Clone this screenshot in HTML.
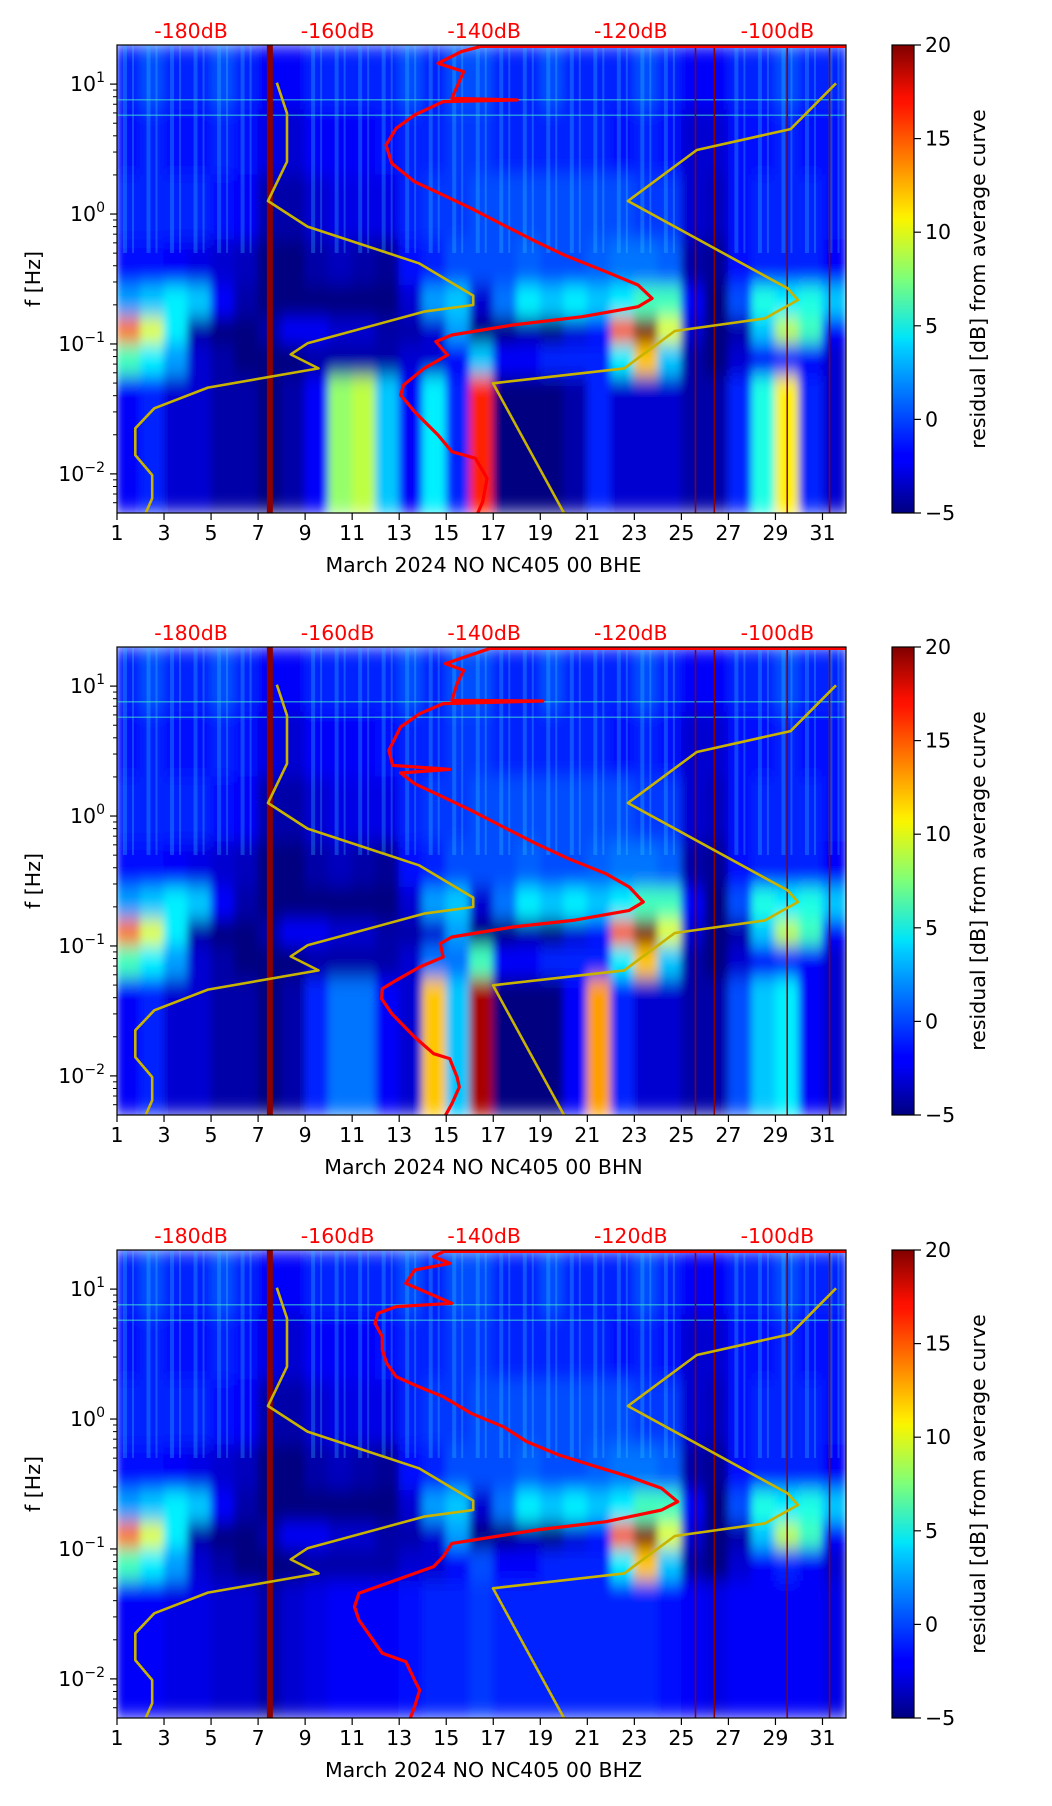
<!DOCTYPE html>
<html><head><meta charset="utf-8"><title>Residual spectrograms</title>
<style>
html,body{margin:0;padding:0;background:#fff;}
svg{display:block;font-family:"DejaVu Sans","Liberation Sans",sans-serif;}
</style></head>
<body>
<svg id="fig" xmlns="http://www.w3.org/2000/svg" width="1052" height="1806" viewBox="0 0 1052 1806">
<defs>
<filter id="soft" x="0" y="0" width="1" height="1"><feGaussianBlur stdDeviation="4 9" edgeMode="duplicate"/></filter>
<linearGradient id="jetgrad" x1="0" y1="1" x2="0" y2="0">
<stop offset="0" stop-color="#000080"/><stop offset="0.11" stop-color="#0000ff"/><stop offset="0.125" stop-color="#0000ff"/>
<stop offset="0.36" stop-color="#00d4ff"/><stop offset="0.375" stop-color="#00e5f8"/><stop offset="0.5" stop-color="#7dff7a"/>
<stop offset="0.625" stop-color="#f8f500"/><stop offset="0.64" stop-color="#ffea00"/><stop offset="0.875" stop-color="#ff1300"/>
<stop offset="0.89" stop-color="#fa0f00"/><stop offset="1" stop-color="#800000"/>
</linearGradient>
</defs>
</svg>
<script>
// ---------- data ----------
const dayTicks = [1,3,5,7,9,11,13,15,17,19,21,23,25,27,29,31];
const dbTicks = [-180,-160,-140,-120,-100];
const cbarTicks = [-5,0,5,10,15,20];
const decadeTicks = [1,0,-1,-2];
const bandEdges = [1.301,0.8,0.3,-0.2,-0.55,-0.8,-1.0,-1.25,-2.301];
const titles = ["March 2024 NO NC405 00 BHE","March 2024 NO NC405 00 BHN","March 2024 NO NC405 00 BHZ"];

// residual grid values (dB), 31 days per band
const p1b0 = [-1,0,-1,-1,0,-1,-2,-2,-1,-1,-1,-1,0,-1,0,0,-1,-1,0,-1,-1,-1,0,-1,-2,-2,-1,-1,0,-1,-1];
const p1b1 = [-1.5,-1,-1.5,-1.5,-1,-1.5,-2.5,-3,-2,-2,-2,-1.5,-1,-1,-0.5,-0.5,-1,-1,-1,-1,-1,-1.5,-1,-1.5,-3,-3,-1.5,-1.5,-1,-1.5,-1.5];
const p1b2 = [-1,-1,-1,-1,-1.5,-2,-4,-4,-3,-2.5,-2.5,-2.5,-1,-0.5,-0.5,0,0,0,0,0,0,0,-0.5,-0.5,-3,-3.5,-1.5,-1,-1,-1,-1.5];
const p1b3 = [-1.5,-1.5,-2,-2.5,-3,-3.5,-5,-5,-4,-3.5,-4,-4.5,-1.5,-1,0,0,0,0.5,0,0,0.5,1,1,0.5,-4,-4.5,-1.5,-1,-1,-1,-2];
const p1b4 = [2,3,4,3,-2,-4,-5,-5,-5,-5,-5,-5,-3,2,3,-3,1,4,3,4,3,4,6,6,-2,-5,0,5,4,5,3];
const p1b5 = [14,10,4,-4,-5,-5,-4,-2,-2,-3,-3,-4,-4,-3,2,-5,-5,-4,-5,-3,-2,15,20,10,-3,-5,-4,3,9,6,-2];
const p1b6 = [6,4,2,-3,-4,-5,-5,-5,-4,-4,-4,-4,-3,-3,-2,3,-2,-2,-1,-1,-1,4,12,3,-4,-5,-3,-2,-1,-2,-3];
const p1b7 = [-2,-1,-3,-3,-4,-4,-5,-4,-2,8,9,3,-2,4,-1,16,-5,-5,-5,-4,-1,-3,-3,-3,-4,-4,-1,5,11,-1,-3];
const p2b6 = [6,4,2,-3,-4,-5,-5,-5,-4,-4,-4,-4,-3,1,1,6,-2,-2,-1,-1,-1,4,12,3,-4,-5,-3,-2,-1,-2,-3];
const p2b7 = [-2,-1,-3,-3,-4,-4,-5,-4,-1,1,1,-2,-3,12,3,19,-5,-5,-5,-2,13,-1,-3,-3,-4,-4,0,3,4,-2,-3];
const p3b6 = [6,4,2,-3,-4,-5,-5,-5,-4,-4,-4,-4,-3,-3,-2,0,-2,-2,-1,-1,-1,4,12,3,-4,-5,-3,-2,-1,-2,-3];
const p3b7 = [-2,-2,-2.5,-2.5,-3,-3,-4,-3,-2.5,-2,-2,-2,-1.5,-1,-1,-0.5,-1,-1,-1,-1,-1,-1,-1,-1.5,-2,-2.5,-2,-2,-2,-2,-2.5];
const grids = [
 [p1b0,p1b1,p1b2,p1b3,p1b4,p1b5,p1b6,p1b7],
 [p1b0,p1b1,p1b2,p1b3,p1b4,p1b5,p2b6,p2b7],
 [p1b0,p1b1,p1b2,p1b3,p1b4,p1b5,p3b6,p3b7]];
const stripeDays = [7.5,25.6,26.4,29.5,31.3];

// Peterson low / high noise models (dB vs log10 f)
const nlnmDb = [-168.3,-166.9,-166.9,-169.5,-164.1,-148.9,-141.5,-141.5,-148.2,-164.1,-166.4,-162.6,-177.7,-185.0,-187.6,-187.6,-185.3,-185.3,-186.2];
const nlnmLogF = [1.011,0.775,0.403,0.100,-0.097,-0.379,-0.628,-0.700,-0.751,-0.995,-1.080,-1.188,-1.336,-1.495,-1.649,-1.855,-2.009,-2.188,-2.303];
const nhnmDb = [-92.0,-98.2,-111.0,-120.4,-98.6,-97.2,-101.7,-114.0,-120.9,-138.8,-129.1];
const nhnmLogF = [1.006,0.654,0.493,0.100,-0.572,-0.662,-0.803,-0.900,-1.188,-1.303,-2.303];

// average PSD curves per channel
const psd1Db = [-140.6,-143.1,-146.3,-142.8,-144.4,-135.5,-145.6,-149.5,-152.0,-153.4,-152.6,-149.5,-145.6,-141.8,-137.4,-132.9,-129.1,-123.4,-119.0,-117.1,-119.0,-126.6,-136.1,-144.4,-146.6,-145.0,-148.2,-151.0,-151.4,-149.5,-146.3,-144.4,-141.2,-139.6,-140.2,-140.9];
const psd1LogF = [1.288,1.250,1.160,1.096,0.891,0.878,0.865,0.762,0.660,0.531,0.390,0.249,0.146,0.044,-0.084,-0.213,-0.315,-0.444,-0.546,-0.649,-0.713,-0.790,-0.854,-0.931,-0.982,-1.085,-1.188,-1.316,-1.393,-1.521,-1.701,-1.829,-1.880,-2.034,-2.214,-2.304];
const psd2Db = [-139.3,-145.3,-142.8,-143.7,-144.4,-132.0,-145.6,-148.8,-151.4,-153.0,-152.5,-144.7,-151.4,-149.5,-145.6,-141.8,-137.4,-132.9,-128.5,-123.4,-120.2,-118.3,-120.2,-127.9,-136.1,-144.4,-146.0,-145.6,-148.8,-152.0,-153.9,-154.0,-152.6,-149.5,-146.9,-144.7,-143.7,-143.4,-144.4,-145.3];
const psd2LogF = [1.288,1.173,1.121,1.019,0.891,0.885,0.865,0.788,0.685,0.506,0.390,0.359,0.331,0.249,0.146,0.044,-0.084,-0.213,-0.328,-0.444,-0.546,-0.662,-0.726,-0.803,-0.854,-0.931,-0.982,-1.085,-1.162,-1.264,-1.329,-1.406,-1.521,-1.701,-1.829,-1.867,-2.009,-2.086,-2.214,-2.304];
const psd3Db = [-145.6,-146.9,-144.7,-149.5,-150.7,-144.4,-152.0,-154.5,-154.9,-153.9,-153.9,-153.3,-152.0,-149.5,-145.6,-141.8,-137.4,-134.2,-129.8,-124.7,-120.2,-115.8,-113.6,-115.8,-123.4,-132.9,-144.4,-145.6,-146.9,-152.0,-157.1,-157.7,-157.1,-155.5,-153.9,-150.7,-149.5,-148.8,-149.5,-150.1];
const psd3LogF = [1.288,1.250,1.198,1.147,1.044,0.891,0.865,0.814,0.737,0.634,0.531,0.429,0.326,0.262,0.172,0.044,-0.059,-0.174,-0.277,-0.367,-0.444,-0.533,-0.636,-0.700,-0.790,-0.854,-0.957,-1.059,-1.136,-1.239,-1.341,-1.444,-1.547,-1.675,-1.803,-1.867,-2.009,-2.086,-2.214,-2.304];
const psdDb = [psd1Db,psd2Db,psd3Db];
const psdLogF = [psd1LogF,psd2LogF,psd3LogF];

// ---------- layout ----------
const NS = "http://www.w3.org/2000/svg";
const svg = document.getElementById('fig');
const X0 = 117, W = 729, H = 468, TOPS = [45,647,1250];
const FMAX = 1.301, FMIN = -2.301;
const CBX = 892, CBW = 22;
const FS = 20.5;
function xDay(d){ return X0 + (d-1)/31*W; }
function yF(lf, y0){ return y0 + (FMAX-lf)/(FMAX-FMIN)*H; }
function xDb(db){ return X0 + 74 + (db+180)*7.33; }
function jet(v){
  const t = Math.max(0,Math.min(1,(v+5)/25));
  const c = k => Math.round(255*Math.max(0,Math.min(1,1.5-Math.abs(4*t-k))));
  return `rgb(${c(3)},${c(2)},${c(1)})`;
}
function el(tag, attrs, parent){
  const e = document.createElementNS(NS, tag);
  for (const k in attrs) e.setAttribute(k, attrs[k]);
  (parent||svg).appendChild(e);
  return e;
}
function txt(s, attrs, parent){ const t = el('text', attrs, parent); t.textContent = s; return t; }

TOPS.forEach((y0, p) => {
  const g = el('g', {});
  
  
  const clipId = 'clip' + p;
  const cp = el('clipPath', {id: clipId}, g);
  el('rect', {x:X0, y:y0, width:W, height:H}, cp);
  const plot = el('g', {'clip-path': `url(#${clipId})`}, g);
  const hm = el('g', {filter:'url(#soft)'}, plot);
  
  
  el('rect', {x:X0, y:y0, width:W, height:H, fill:'#000080'}, hm);
  grids[p].forEach((band, b) => {
    const ya = yF(bandEdges[b], y0), yb = yF(bandEdges[b+1], y0);
    band.forEach((v, i) => {
      const r = el('rect', {x:xDay(i+1)-0.5, y:ya-0.5, width:W/31+1, height:yb-ya+1, fill:jet(v)}, hm);
      
      
    });
  });
  for (let d = 1; d <= 31; d++) {
    if (d===7 || d===8 || d===25 || d===26) continue;
    const yb = yF(-0.3, y0);
    el('rect', {x:xDay(d)+6, y:y0, width:4, height:yb-y0, fill:'#30c8ff', opacity:0.3}, plot);
    el('rect', {x:xDay(d)+15, y:y0, width:2, height:yb-y0, fill:'#50e0ff', opacity:0.25}, plot);
  }
  [0.88,0.76].forEach(lf => el('line', {x1:X0, x2:X0+W, y1:yF(lf,y0), y2:yF(lf,y0), stroke:'#40e0d0', 'stroke-width':1.5, opacity:0.6}, plot));
  stripeDays.forEach((d, i) => {
    const l = el('line', {x1:xDay(d), x2:xDay(d), y1:y0, y2:y0+H, stroke:'#8b0000', 'stroke-width': i===0 ? 6 : 1.5}, plot);
    
    
  });
  const mk = (dbs, lfs, name) => {
    const pl = el('polyline', {points: dbs.map((d,i)=>xDb(d).toFixed(1)+','+yF(lfs[i],y0).toFixed(1)).join(' '), fill:'none', stroke:'#c8b400', 'stroke-width':2.6, 'stroke-linejoin':'round'}, plot);
    
    
  };
  mk(nlnmDb, nlnmLogF, 'nlnm-curve');
  mk(nhnmDb, nhnmLogF, 'nhnm-curve');
  const pd = psdDb[p], pf = psdLogF[p];
  const top = el('line', {x1:xDb(pd[0]), x2:X0+W, y1:y0+1.5, y2:y0+1.5, stroke:'#ff0000', 'stroke-width':3}, plot);
  
  
  const psd = el('polyline', {points: pd.map((d,i)=>xDb(d).toFixed(1)+','+yF(pf[i],y0).toFixed(1)).join(' '), fill:'none', stroke:'#ff0000', 'stroke-width':3.2, 'stroke-linejoin':'round'}, plot);
  
  
  el('rect', {x:X0, y:y0, width:W, height:H, fill:'none', stroke:'#000', 'stroke-width':1.2}, g);
  decadeTicks.forEach(k => {
    const y = yF(k, y0);
    el('line', {x1:X0-7, x2:X0, y1:y, y2:y, stroke:'#000', 'stroke-width':1.2}, g);
    const t = txt('', {x:X0-12, y:y+7, 'text-anchor':'end', 'font-size':FS, fill:'#000'}, g);
    
    
    const a = document.createElementNS(NS,'tspan'); a.textContent = '10'; t.appendChild(a);
    const s = document.createElementNS(NS,'tspan'); s.textContent = k < 0 ? '\u2212' + (-k) : String(k);
    s.setAttribute('font-size', 14); s.setAttribute('dy', -9); t.appendChild(s);
    for (let m = 2; m <= 9; m++) {
      const lf = k + Math.log10(m);
      if (lf <= FMAX && lf >= FMIN) {
        const ym = yF(lf, y0);
        el('line', {x1:X0-4, x2:X0, y1:ym, y2:ym, stroke:'#000', 'stroke-width':1}, g);
      }
    }
    if (k === -2) [-3+Math.log10(6),-3+Math.log10(7),-3+Math.log10(8),-3+Math.log10(9)].forEach(lf => { if (lf >= FMIN) { const ym=yF(lf,y0); el('line',{x1:X0-4,x2:X0,y1:ym,y2:ym,stroke:'#000','stroke-width':1},g);} });
  });
  const yl = txt('f [Hz]', {x:0, y:0, 'text-anchor':'middle', 'font-size':FS, transform:`translate(40,${y0+H/2}) rotate(-90)`}, g);
  
  
  dayTicks.forEach(d => {
    const x = xDay(d);
    el('line', {x1:x, x2:x, y1:y0+H, y2:y0+H+7, stroke:'#000', 'stroke-width':1.2}, g);
    const t = txt(String(d), {x:x, y:y0+H+27, 'text-anchor':'middle', 'font-size':FS}, g);
    
    
  });
  const xt = txt(titles[p], {x:X0+W/2+2, y:y0+H+59, 'text-anchor':'middle', 'font-size':FS}, g);
  
  
  dbTicks.forEach(db => {
    const t = txt(db + 'dB', {x:xDb(db), y:y0-7, 'text-anchor':'middle', 'font-size':FS, fill:'#ff0000'}, g);
    
    
  });
  const cb = el('g', {}, g);
  
  
  el('rect', {x:CBX, y:y0, width:CBW, height:H, fill:'url(#jetgrad)', stroke:'#000', 'stroke-width':1.2}, cb);
  cbarTicks.forEach(v => {
    const y = y0 + (20-v)/25*H;
    el('line', {x1:CBX+CBW, x2:CBX+CBW+7, y1:y, y2:y, stroke:'#000', 'stroke-width':1.2}, cb);
    const t = txt(v < 0 ? '\u2212' + (-v) : String(v), {x:CBX+CBW+11, y:y+7, 'font-size':FS}, cb);
    
    
  });
  const cl = txt('residual [dB] from average curve', {x:0, y:0, 'text-anchor':'middle', 'font-size':FS, transform:`translate(985,${y0+H/2}) rotate(-90)`}, cb);
  
  
});
</script>
</body></html>
